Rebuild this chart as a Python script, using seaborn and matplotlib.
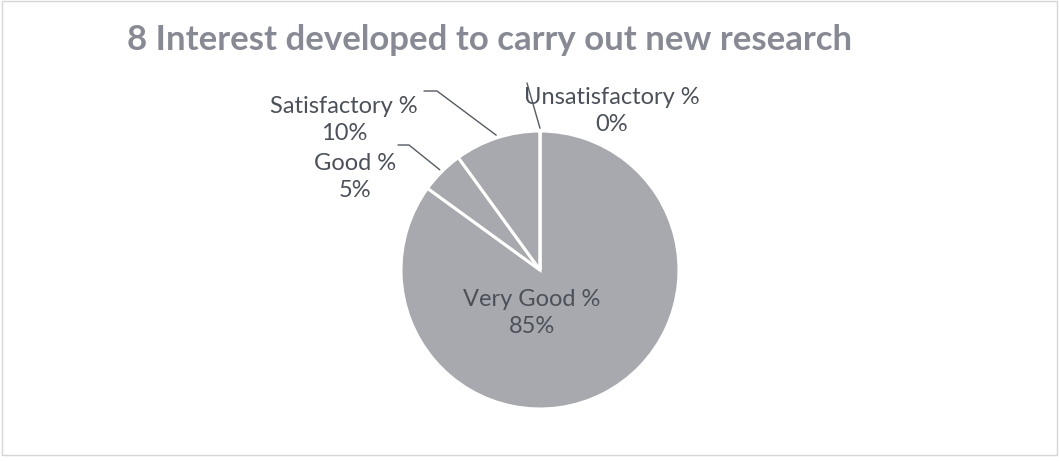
import numpy as np
import matplotlib
matplotlib.use('Agg')
import matplotlib.pyplot as plt
from matplotlib.patches import Rectangle
import seaborn as sns

# chart data
categories = ["Very Good %", "Good %", "Satisfactory %", "Unsatisfactory %"]
percent = [85, 5, 10, 0]
title = "8 Interest developed to carry out new research"

sns.set_theme(style="white")
plt.rcParams['font.family'] = ['Lato', 'DejaVu Sans']

W, H = 1059, 462
CX, CY, R = 540, 270, 139  # pie centre / radius in pixels

fig = plt.figure(figsize=(W / 100, H / 100), dpi=100)
ax = fig.add_axes([0, 0, 1, 1])

slice_color = "#a7a9ae"
wedges, _ = ax.pie(percent, startangle=90, counterclock=False,
                   colors=[slice_color] * len(percent),
                   wedgeprops=dict(edgecolor="white", linewidth=2.2))

# map the whole figure so that the pie radius is 1 and centre is (540, 270) px
ax.set_xlim(-CX / R, (W - CX) / R)
ax.set_ylim(-(H - CY) / R, CY / R)
ax.set_aspect('auto')
ax.axis('off')

def px(x, y):
    return (x - CX) / R, (CY - y) / R

label_color = "#4b505a"
# label block centres and leader-line elbows (layout only)
label_pos = {
    "Very Good %": px(532, 313),
    "Good %": px(355, 177),
    "Satisfactory %": px(344, 120),
    "Unsatisfactory %": px(612, 111),
}
elbows = {
    "Good %": [px(398, 145), px(409, 145)],
    "Satisfactory %": [px(424, 91), px(437, 91)],
    "Unsatisfactory %": [px(527, 83)],
}

for w, cat, val in zip(wedges, categories, percent):
    mid = np.deg2rad((w.theta1 + w.theta2) / 2)
    tx, ty = label_pos[cat]
    ax.text(tx, ty, f"{cat}\n{val}%", ha="center", va="center",
            fontsize=17, color=label_color, linespacing=1.38)
    if cat in elbows:
        ax_x = 1.02 * np.cos(mid)
        ax_y = 1.02 * np.sin(mid)
        pts = elbows[cat] + [(ax_x, ax_y)]
        xs, ys = zip(*pts)
        ax.plot(xs, ys, color="#555a63", lw=1.0)

fig.text(490 / W, 1 - 40 / H, title, ha="center", va="center",
         fontsize=25, fontweight="bold", color="#878a94")

fig.patches.append(Rectangle((0.002, 0.015), 0.996, 0.982, transform=fig.transFigure,
                             fill=False, edgecolor="#d6d6d6", lw=1.0))

fig.savefig("out.png", dpi=100, facecolor="white")
